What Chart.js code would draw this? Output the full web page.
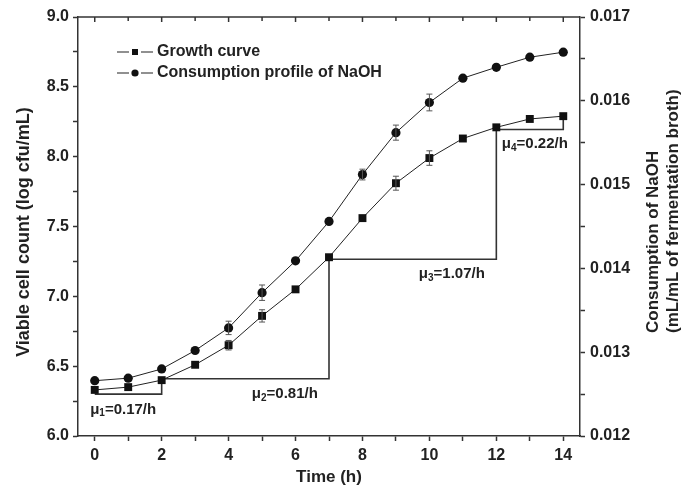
<!DOCTYPE html>
<html>
<head>
<meta charset="utf-8">
<script src="https://cdn.jsdelivr.net/npm/chart.js@4/dist/chart.umd.min.js"></script>
<style>
html,body{margin:0;padding:0;background:#fff;}
#wrap{width:684px;height:488px;position:relative;}
</style>
</head>
<body>
<div id="wrap"><canvas id="c" width="684" height="488"></canvas></div>
<script>
// ---- data ----
const hours = [0,1,2,3,4,5,6,7,8,9,10,11,12,13,14];
const growthCurve = [6.33,6.35,6.40,6.51,6.65,6.86,7.05,7.28,7.56,7.81,7.99,8.13,8.21,8.27,8.29];
const growthErr   = [0.01,0.01,0.01,0.01,0.034,0.044,0.01,0.01,0.025,0.05,0.052,0.01,0.005,0.005,0.005];
const naohConsumption = [0.01266,0.01269,0.01280,0.01302,0.01329,0.01371,0.01409,0.01456,0.01512,0.01562,0.01598,0.01627,0.01640,0.01652,0.01658];
const naohErr = [0.00002,0.00002,0.000036,0.000048,0.00008,0.000092,0.00002,0.00002,0.000064,0.00009,0.0001,0.00002,0.00001,0.00001,0.00001];
const seriesNames = ['Growth curve','Consumption of NaOH','Consumption profile of NaOH'];
// growth-rate step brackets (x in h, y in log cfu/mL)
const bracket1 = [[0,6.30],[2,6.30],[2,6.40]];
const bracket2 = [[2,6.41],[7,6.41],[7,7.28]];
const bracket3 = [[7,7.265],[12,7.265],[12,8.21]];
const bracket4 = [[12,8.195],[14,8.195],[14,8.29]];
const rateLabels = [
  {sub:'1', text:'=0.17/h', x:0.85, y:6.19},
  {sub:'2', text:'=0.81/h', x:5.68, y:6.30},
  {sub:'3', text:'=1.07/h', x:10.67, y:7.16},
  {sub:'4', text:'=0.22/h', x:13.15, y:8.09}
];
const xTicksLabeled = [0,2,4,6,8,10,12,14];
const yTicksLabeled = ['6.0','6.5','7.0','7.5','8.0','8.5','9.0'];
const y2TicksLabeled = ['0.012','0.013','0.014','0.015','0.016','0.017'];

const FONT = '"Liberation Sans", Arial, sans-serif';
const INK = '#222';
const AX = '#333';

const toXY = (xs, ys) => xs.map((x,i)=>({x:x, y:ys[i]}));
const br = (b) => b.map(p=>({x:p[0], y:p[1]}));

const bracketDs = (b) => ({
  type:'line', data: br(b), xAxisID:'x', yAxisID:'y',
  borderColor:AX, borderWidth:1.6, pointRadius:0, fill:false, tension:0
});

// error bars plugin
const errorBars = {
  id:'errorBars',
  afterDatasetsDraw(chart){
    const ctx = chart.ctx;
    [[0,growthErr,'y'],[1,naohErr,'y2']].forEach(([di,errs,axis])=>{
      const meta = chart.getDatasetMeta(di);
      const sc = chart.scales[axis];
      const vals = chart.data.datasets[di].data;
      ctx.save();
      ctx.strokeStyle = '#555';
      ctx.lineWidth = 1;
      meta.data.forEach((pt,i)=>{
        const v = vals[i].y, e = errs[i];
        const y1 = sc.getPixelForValue(v+e), y2 = sc.getPixelForValue(v-e);
        if (Math.abs(y2-y1) < 9) return;
        const x = pt.x;
        ctx.beginPath();
        ctx.moveTo(x,y1); ctx.lineTo(x,y2);
        ctx.moveTo(x-3,y1); ctx.lineTo(x+3,y1);
        ctx.moveTo(x-3,y2); ctx.lineTo(x+3,y2);
        ctx.stroke();
      });
      ctx.restore();
    });
  }
};

// frame, top inward ticks, titles, legend, rate labels
const decor = {
  id:'decor',
  afterDraw(chart){
    const ctx = chart.ctx;
    const ca = chart.chartArea;
    const xs = chart.scales.x, ys = chart.scales.y;
    ctx.save();
    // top frame line
    ctx.strokeStyle = AX; ctx.lineWidth = 1.5;
    ctx.beginPath(); ctx.moveTo(ca.left, ca.top); ctx.lineTo(ca.right, ca.top); ctx.stroke();
    // top inward ticks
    hours.forEach(h=>{
      const x = xs.getPixelForValue(h);
      ctx.beginPath(); ctx.moveTo(x, ca.top); ctx.lineTo(x, ca.top + (h%2===0?5:4)); ctx.stroke();
    });
    // axis titles
    ctx.fillStyle = INK;
    ctx.font = 'bold 17px ' + FONT;
    ctx.textAlign = 'center'; ctx.textBaseline = 'middle';
    ctx.fillText('Time (h)', (ca.left+ca.right)/2, 477);
    ctx.save();
    ctx.font = 'bold 18px ' + FONT;
    ctx.translate(24, 232);
    ctx.rotate(-Math.PI/2);
    ctx.fillText('Viable cell count (log cfu/mL)', 0, 0);
    ctx.restore();
    ctx.save();
    ctx.font = 'bold 17px ' + FONT;
    ctx.translate(653, 333);
    ctx.rotate(-Math.PI/2);
    ctx.textAlign = 'left';
    ctx.fillText('Consumption of NaOH', 0, 0);
    ctx.fillText('(mL/mL of fermentation broth)', 0, 20);
    ctx.restore();
    // legend
    const items = [
      {label:seriesNames[0], style:'rect', y: ca.top + 35},
      {label:seriesNames[2], style:'circle', y: ca.top + 56}
    ];
    items.forEach(it=>{
      const x0 = ca.left + 39, x1 = ca.left + 75, xm = (x0+x1)/2;
      ctx.strokeStyle = INK; ctx.lineWidth = 1.2;
      ctx.beginPath(); ctx.moveTo(x0, it.y); ctx.lineTo(xm-6, it.y);
      ctx.moveTo(xm+6, it.y); ctx.lineTo(x1, it.y); ctx.stroke();
      ctx.fillStyle = '#111';
      if (it.style==='rect') { ctx.fillRect(xm-3, it.y-3, 6, 6); }
      else { ctx.beginPath(); ctx.arc(xm, it.y, 3.6, 0, Math.PI*2); ctx.fill(); }
      ctx.fillStyle = INK;
      ctx.font = 'bold 16px ' + FONT;
      ctx.textAlign = 'left'; ctx.textBaseline = 'middle';
      ctx.fillText(it.label, x1 + 4, it.y);
    });
    // growth rate labels
    rateLabels.forEach(r=>{
      const cx = xs.getPixelForValue(r.x), cy = ys.getPixelForValue(r.y);
      ctx.font = 'bold 15px ' + FONT;
      const wMu = ctx.measureText('\u03bc').width;
      const wT = ctx.measureText(r.text).width;
      ctx.font = 'bold 10px ' + FONT;
      const wS = ctx.measureText(r.sub).width;
      const total = wMu + wS + wT;
      let x = cx - total/2;
      ctx.textAlign = 'left'; ctx.textBaseline = 'middle'; ctx.fillStyle = INK;
      ctx.font = 'bold 15px ' + FONT;
      ctx.fillText('\u03bc', x, cy); x += wMu;
      ctx.font = 'bold 10px ' + FONT;
      ctx.fillText(r.sub, x, cy + 4); x += wS;
      ctx.font = 'bold 15px ' + FONT;
      ctx.fillText(r.text, x, cy);
    });
    ctx.restore();
  }
};

const tickFont = {family: FONT, size: 16, weight: 'bold'};

new Chart(document.getElementById('c'), {
  type: 'line',
  data: {
    datasets: [
      {
        label: seriesNames[0], data: toXY(hours, growthCurve), xAxisID:'x', yAxisID:'y',
        borderColor:INK, borderWidth:1, backgroundColor:'#111',
        pointStyle:'rect', pointRadius:5.6, pointBorderWidth:0, tension:0
      },
      {
        label: seriesNames[1], data: toXY(hours, naohConsumption), xAxisID:'x', yAxisID:'y2',
        borderColor:INK, borderWidth:1, backgroundColor:'#111',
        pointStyle:'circle', pointRadius:4.6, pointBorderWidth:0, tension:0
      },
      bracketDs(bracket1), bracketDs(bracket2), bracketDs(bracket3), bracketDs(bracket4)
    ]
  },
  options: {
    responsive:false, animation:false,
    layout:{padding:{top:17, left:0, right:0, bottom:0}},
    plugins:{legend:{display:false}, tooltip:{enabled:false}},
    scales:{
      x:{
        type:'linear', position:'bottom', min:-0.5, max:14.5,
        afterFit(s){ s.height = 52; },
        afterBuildTicks(s){ s.ticks = hours.map(v=>({value:v})); },
        ticks:{ font:tickFont, color:INK, padding:5, maxRotation:0, autoSkip:false,
          callback:(v)=> xTicksLabeled.includes(v) ? String(v) : '' },
        grid:{ drawOnChartArea:false, drawTicks:true, tickLength:5, tickColor:AX, tickWidth:1.5 },
        border:{ display:true, color:AX, width:1.5 }
      },
      y:{
        type:'linear', position:'left', min:6.0, max:9.0,
        afterFit(s){ s.width = 78; },
        afterBuildTicks(s){ const t=[]; for(let k=0;k<=12;k++) t.push({value:6+k*0.25}); s.ticks=t; },
        ticks:{ font:tickFont, color:INK, padding:4, autoSkip:false,
          callback:(v)=>{ const s=v.toFixed(1); return (Math.round(v*4)%2===0 && yTicksLabeled.includes(s)) ? s : ''; } },
        grid:{ drawOnChartArea:false, drawTicks:true, tickLength:5, tickColor:AX, tickWidth:1.5 },
        border:{ display:true, color:AX, width:1.5 }
      },
      y2:{
        type:'linear', position:'right', min:0.012, max:0.017,
        afterFit(s){ s.width = 104; },
        afterBuildTicks(s){ const t=[]; for(let k=0;k<=10;k++) t.push({value:0.012+k*0.0005}); s.ticks=t; },
        ticks:{ font:tickFont, color:INK, padding:5, autoSkip:false,
          callback:(v)=>{ const s=v.toFixed(3); return (Math.round(v*2000)%2===0 && y2TicksLabeled.includes(s)) ? s : ''; } },
        grid:{ drawOnChartArea:false, drawTicks:true, tickLength:5, tickColor:AX, tickWidth:1.5 },
        border:{ display:true, color:AX, width:1.5 }
      }
    }
  },
  plugins:[errorBars, decor]
});
</script>
</body>
</html>
